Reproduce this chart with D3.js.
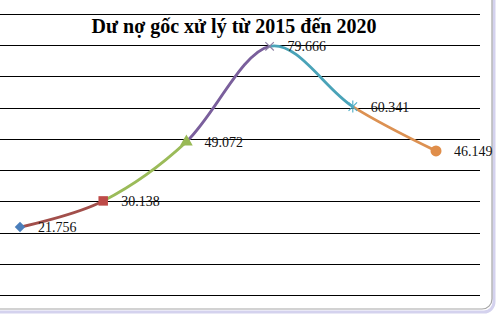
<!DOCTYPE html>
<html>
<head>
<meta charset="utf-8">
<script src="https://cdn.jsdelivr.net/npm/d3@7"></script>
<style>
  body { margin: 0; background: #fff; }
  svg { display: block; }
</style>
</head>
<body>
<div id="chart"></div>
<script>
var years = ["2015", "2016", "2017", "2018", "2019", "2020"];
var values = [21.756, 30.138, 49.072, 79.666, 60.341, 46.149];
var labels = ["21.756", "30.138", "49.072", "79.666", "60.341", "46.149"];
var yTicks = [0, 10, 20, 30, 40, 50, 60, 70, 80, 90];
var segColors = ["#a24f4b", "#9bbb59", "#7a5f9c", "#4aa3b8", "#dc9152"];
var markerColors = ["#4a7ebb", "#be4b48", "#98b954", "#8c7fa3", "#4bacc6", "#e08e4a"];
var markerTypes = ["diamond", "square", "triangle", "x", "star", "circle"];

var width = 496;
var height = 319;

var svg = d3.select("#chart")
    .append("svg")
    .attr("width", width)
    .attr("height", height);

var x = d3.scalePoint().domain(years).range([20, 436]);
var y = d3.scaleLinear().domain([0, 90]).range([295, 14]);

// chart frame (only right and bottom edges visible)
svg.append("rect")
    .attr("x", -30).attr("y", -30)
    .attr("width", 524).attr("height", 342)
    .attr("rx", 10)
    .attr("fill", "none")
    .attr("stroke", "#d4d2ee")
    .attr("stroke-width", 3);
svg.append("rect")
    .attr("x", -30).attr("y", -30)
    .attr("width", 522).attr("height", 339)
    .attr("rx", 10)
    .attr("fill", "#fff")
    .attr("stroke", "#a6a6a6")
    .attr("stroke-width", 1.2);

// gridlines
svg.append("g")
    .selectAll("line")
    .data(yTicks)
    .enter()
    .append("line")
    .attr("x1", 0)
    .attr("x2", 480)
    .attr("y1", function(d) { return Math.round(y(d)) + 0.5; })
    .attr("y2", function(d) { return Math.round(y(d)) + 0.5; })
    .attr("stroke", "#000")
    .attr("stroke-width", 1.2);

// title
svg.append("text")
    .attr("x", 234)
    .attr("y", 33)
    .attr("text-anchor", "middle")
    .attr("font-family", "'Liberation Serif', 'Times New Roman', serif")
    .attr("font-weight", "bold")
    .attr("font-size", 20)
    .attr("fill", "#000")
    .text("Dư nợ gốc xử lý từ 2015 đến 2020");

// smooth line, each segment coloured differently
var pts = years.map(function(d, i) { return [x(d), y(values[i])]; });
var line = d3.line().curve(d3.curveCatmullRom.alpha(0));
var defs = svg.append("defs");

for (var i = 0; i < pts.length - 1; i++) {
    defs.append("clipPath")
        .attr("id", "seg" + i)
        .append("rect")
        .attr("x", pts[i][0])
        .attr("y", 0)
        .attr("width", pts[i + 1][0] - pts[i][0])
        .attr("height", height);
    svg.append("path")
        .attr("d", line(pts))
        .attr("fill", "none")
        .attr("stroke", segColors[i])
        .attr("stroke-width", 2.8)
        .attr("clip-path", "url(#seg" + i + ")");
}

// markers
var symbolMap = {
    diamond: d3.symbolSquare,
    square: d3.symbolSquare,
    triangle: d3.symbolTriangle,
    circle: d3.symbolCircle
};
var sizeMap = { diamond: 55, square: 90, triangle: 70, circle: 95 };

pts.forEach(function(p, i) {
    var t = markerTypes[i];
    var g = svg.append("g").attr("transform", "translate(" + p[0] + "," + p[1] + ")");
    if (t == "x" || t == "star") {
        var r = 6;
        var angles = t == "x" ? [45, 135] : [45, 135, 90];
        angles.forEach(function(a) {
            var rad = a * Math.PI / 180;
            g.append("line")
                .attr("x1", -r * Math.cos(rad)).attr("y1", -r * Math.sin(rad))
                .attr("x2", r * Math.cos(rad)).attr("y2", r * Math.sin(rad))
                .attr("stroke", markerColors[i])
                .attr("stroke-width", 1.1);
        });
    } else {
        g.append("path")
            .attr("d", d3.symbol().type(symbolMap[t]).size(sizeMap[t])())
            .attr("transform", t == "diamond" ? "rotate(45)" : null)
            .attr("fill", markerColors[i]);
    }
});

// data labels
svg.append("g")
    .selectAll("text")
    .data(pts)
    .enter()
    .append("text")
    .attr("x", function(d) { return d[0] + 18; })
    .attr("y", function(d) { return d[1] + 5; })
    .attr("font-family", "'Liberation Serif', 'Times New Roman', serif")
    .attr("font-size", 14)
    .attr("fill", "#111")
    .text(function(d, i) { return labels[i]; });
</script>
</body>
</html>
